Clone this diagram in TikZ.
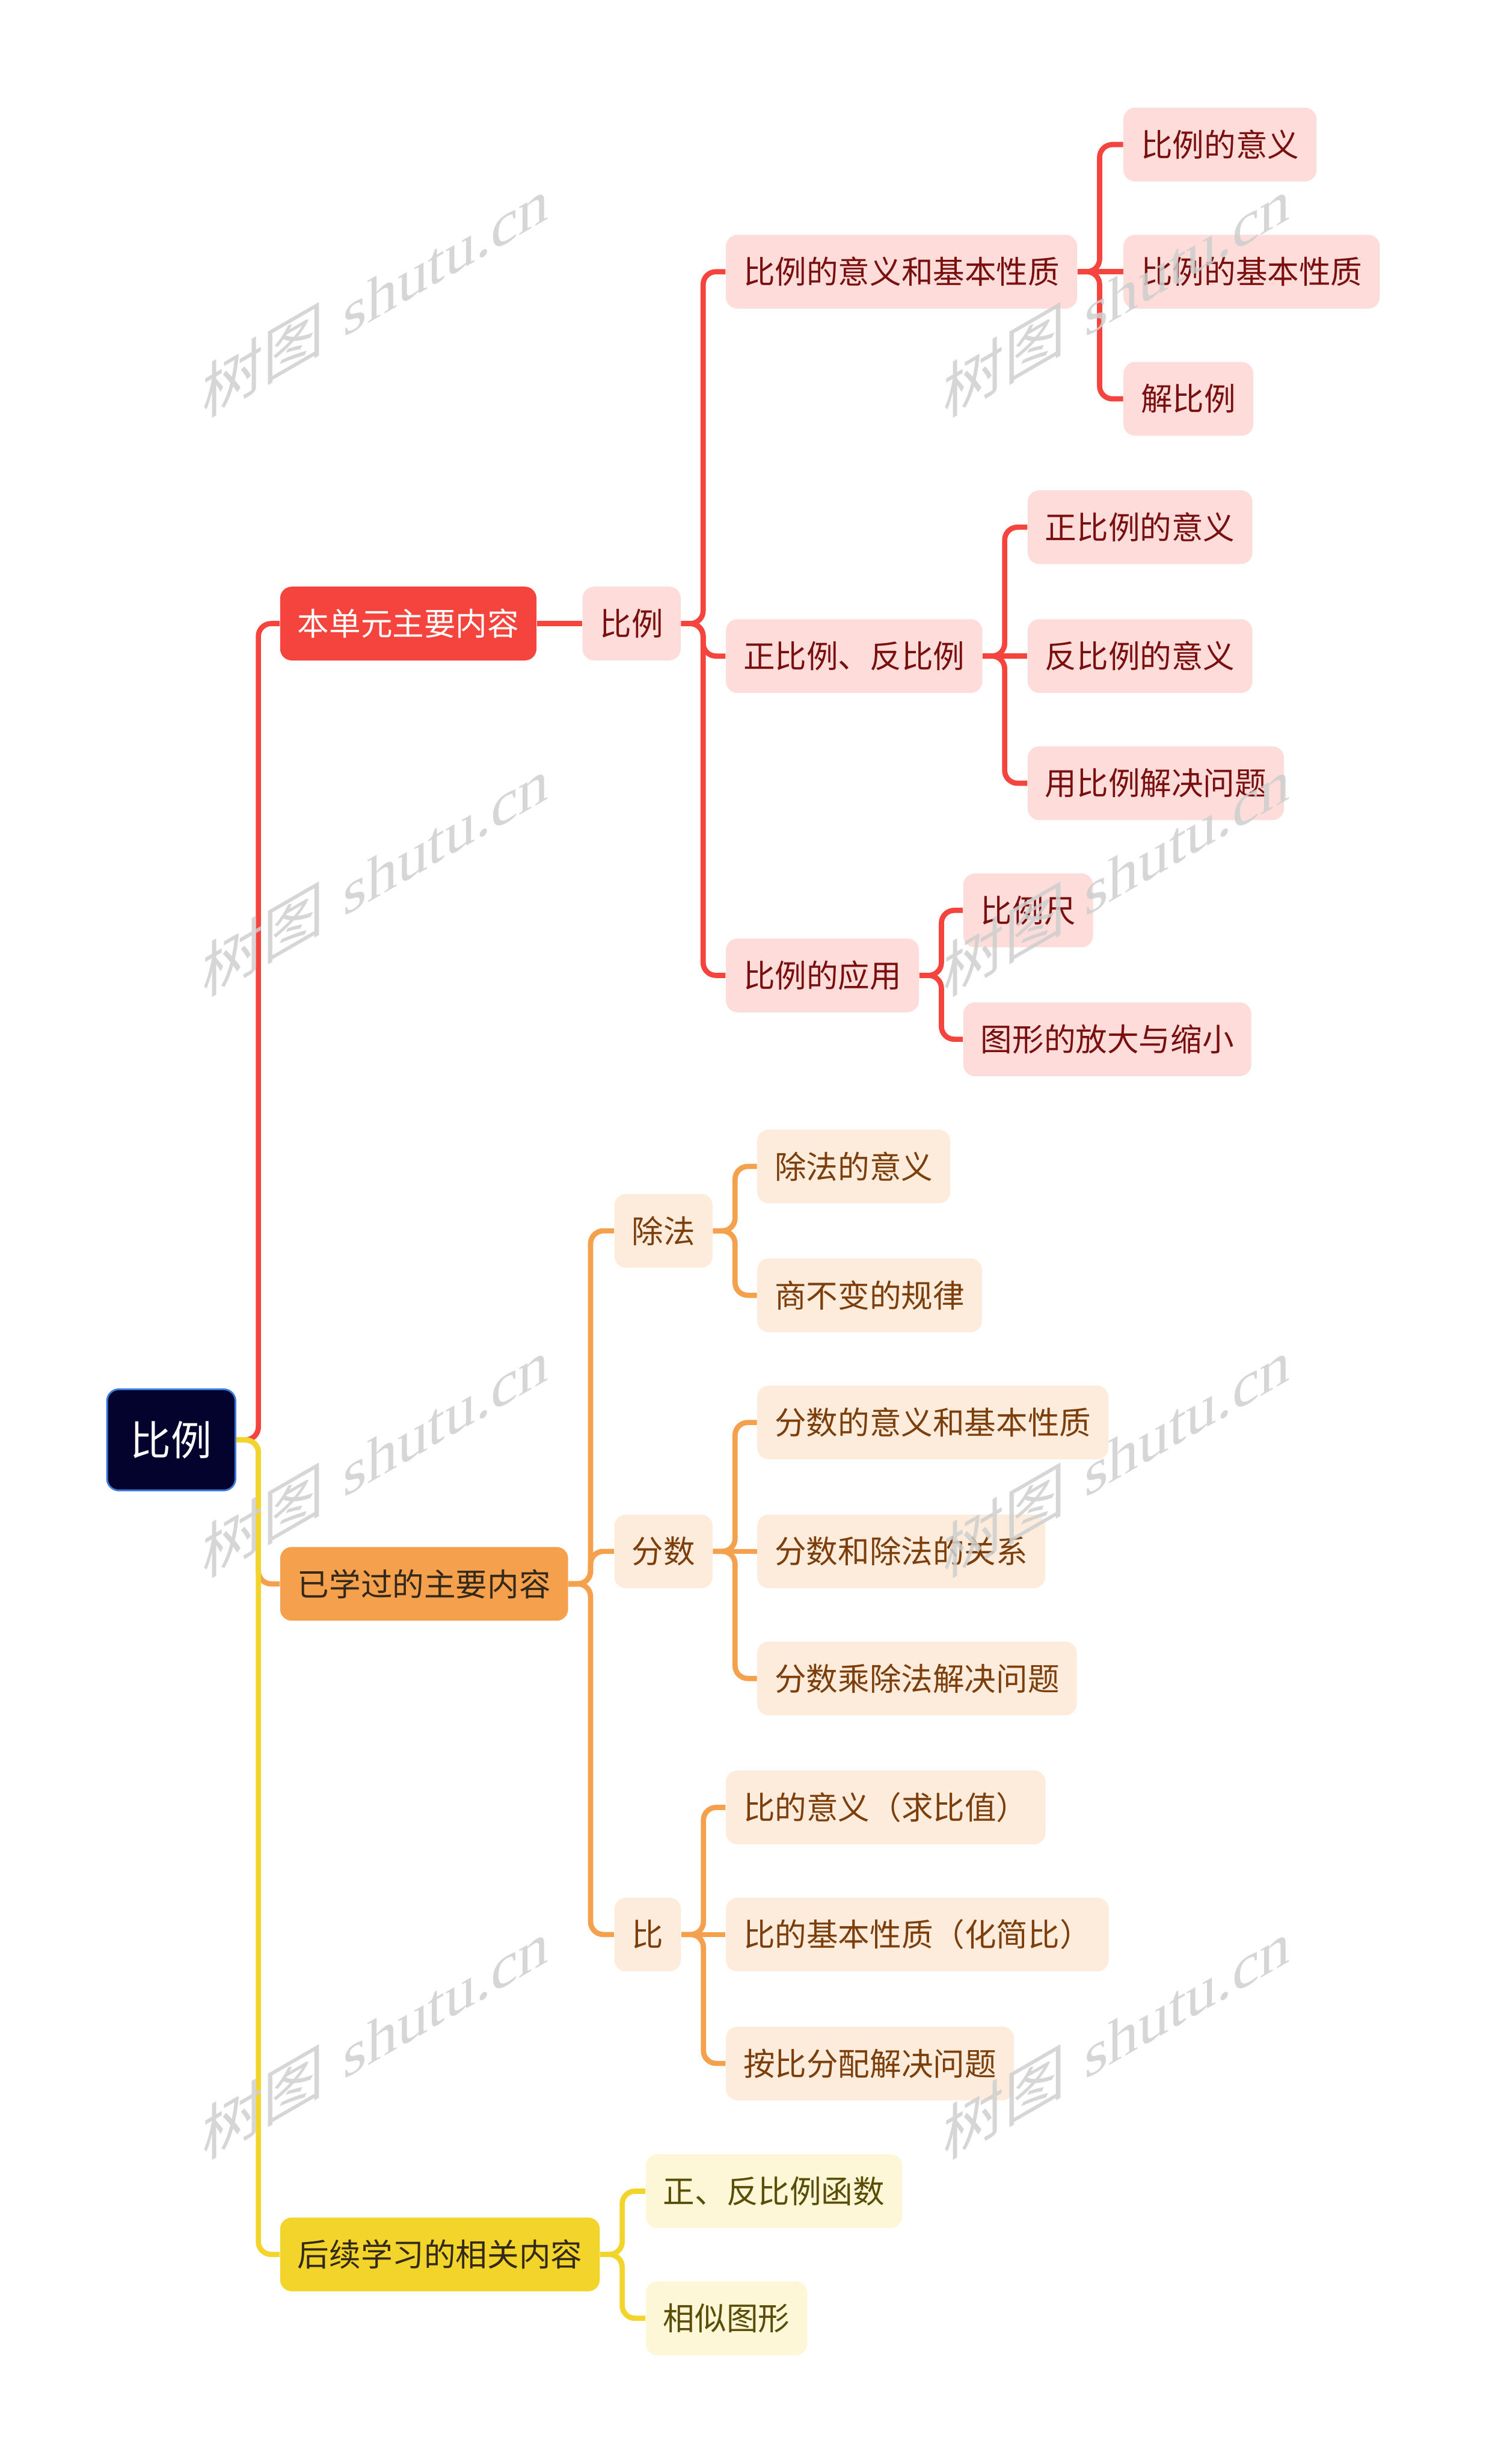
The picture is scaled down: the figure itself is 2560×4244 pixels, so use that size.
\documentclass[tikz,border=0pt]{standalone}
\usepackage{fontspec}
\newfontfamily\cjk{Noto Sans CJK SC}
\newfontfamily\wmfont{Liberation Serif}
\usetikzlibrary{backgrounds}
\definecolor{cRed}{HTML}{F4443D}
\definecolor{cRedL}{HTML}{FDDCDA}
\definecolor{cRedT}{HTML}{7A0F0F}
\definecolor{cOra}{HTML}{F4A04C}
\definecolor{cOraL}{HTML}{FDEBDC}
\definecolor{cOraT}{HTML}{7C3F0C}
\definecolor{cYel}{HTML}{F2D42A}
\definecolor{cYelL}{HTML}{FDF7D7}
\definecolor{cYelT}{HTML}{5A4D05}
\definecolor{cRoot}{HTML}{03032E}
\definecolor{cRootB}{HTML}{3C7BDB}
\definecolor{cDark}{HTML}{33291A}
\definecolor{cWM}{HTML}{CFCFCF}
\tikzset{
  basebox/.style={rounded corners=0.2cm, inner xsep=0.3cm, inner ysep=0pt,
    minimum height=1.27cm, anchor=west, font=\cjk\fontsize{15.5}{18}\selectfont},
  rootbox/.style={rounded corners=0.2cm, fill=cRoot, draw=cRootB, line width=0.03cm,
    minimum width=2.21cm, minimum height=1.74cm, anchor=west, text=white,
    font=\cjk\fontsize{20}{24}\selectfont},
  l1red/.style={basebox, fill=cRed, text=white},
  l1ora/.style={basebox, fill=cOra, text=cDark},
  l1yel/.style={basebox, fill=cYel, text=cDark},
  redbox/.style={basebox, fill=cRedL, text=cRedT},
  orabox/.style={basebox, fill=cOraL, text=cOraT},
  yelbox/.style={basebox, fill=cYelL, text=cYelT},
  conn/.style={line width=0.09cm, rounded corners=0.22cm},
  wm/.style={text=cWM, opacity=0.85, font=\fontsize{30}{30}\selectfont, transform shape}
}
\newcommand\link[3]{\draw[conn,#1] (#2.east) -- ++(38,0) |- (#3.west);}
\newcommand\straightlink[3]{\draw[conn,#1] (#2.east) -- (#3.west);}
\begin{document}
\begin{tikzpicture}[x=0.01cm,y=-0.01cm]
\useasboundingbox (0,0) rectangle (2560,4244);
% nodes
\node[rootbox] (root) at (183,2480) {比例};
\node[l1red] (a) at (482,1074) {本单元主要内容};
\node[l1ora] (b) at (482,2728) {已学过的主要内容};
\node[l1yel] (c) at (482,3883) {后续学习的相关内容};
\node[redbox] (a1) at (1003,1074) {比例};
\node[redbox] (a11) at (1250,468) {比例的意义和基本性质};
\node[redbox] (a12) at (1250,1130) {正比例、反比例};
\node[redbox] (a13) at (1250,1680) {比例的应用};
\node[redbox] (a111) at (1935,249) {比例的意义};
\node[redbox] (a112) at (1935,468) {比例的基本性质};
\node[redbox] (a113) at (1935,687) {解比例};
\node[redbox] (a121) at (1770,908) {正比例的意义};
\node[redbox] (a122) at (1770,1130) {反比例的意义};
\node[redbox] (a123) at (1770,1349) {用比例解决问题};
\node[redbox] (a131) at (1659,1568) {比例尺};
\node[redbox] (a132) at (1659,1790) {图形的放大与缩小};
\node[orabox] (b1) at (1058,2120) {除法};
\node[orabox] (b2) at (1058,2672) {分数};
\node[orabox] (b3) at (1058,3332) {比};
\node[orabox] (b11) at (1304,2009) {除法的意义};
\node[orabox] (b12) at (1304,2231) {商不变的规律};
\node[orabox] (b21) at (1304,2450) {分数的意义和基本性质};
\node[orabox] (b22) at (1304,2672) {分数和除法的关系};
\node[orabox] (b23) at (1304,2891) {分数乘除法解决问题};
\node[orabox] (b31) at (1250,3113) {比的意义（求比值）};
\node[orabox] (b32) at (1250,3332) {比的基本性质（化简比）};
\node[orabox] (b33) at (1250,3554) {按比分配解决问题};
\node[yelbox] (c1) at (1112,3774) {正、反比例函数};
\node[yelbox] (c2) at (1112,3993) {相似图形};
% connectors
\begin{pgfonlayer}{background}
\fill[white] (0,0) rectangle (2560,4244);
\link{cRed}{root}{a}
\link{cOra}{root}{b}
\link{cYel}{root}{c}
\straightlink{cRed}{a}{a1}
\foreach \ch in {a11,a12,a13} {\link{cRed}{a1}{\ch}}
\foreach \ch in {a111,a113} {\link{cRed}{a11}{\ch}}
\straightlink{cRed}{a11}{a112}
\foreach \ch in {a121,a123} {\link{cRed}{a12}{\ch}}
\straightlink{cRed}{a12}{a122}
\foreach \ch in {a131,a132} {\link{cRed}{a13}{\ch}}
\foreach \ch in {b1,b2,b3} {\link{cOra}{b}{\ch}}
\foreach \ch in {b11,b12} {\link{cOra}{b1}{\ch}}
\foreach \ch in {b21,b23} {\link{cOra}{b2}{\ch}}
\straightlink{cOra}{b2}{b22}
\foreach \ch in {b31,b33} {\link{cOra}{b3}{\ch}}
\straightlink{cOra}{b3}{b32}
\foreach \ch in {c1,c2} {\link{cYel}{c}{\ch}}
\end{pgfonlayer}
% watermarks
\foreach \wx in {647,1924} {
  \foreach \wy in {509,1507,2508,3510} {
    \begin{scope}[shift={(\wx,\wy)}, yslant=0.577]
      \node[wm] (wm-\wx-\wy) at (0,0) {{\cjk 树图} {\wmfont shutu.cn}};
    \end{scope}
  }
}
\end{tikzpicture}
\end{document}
